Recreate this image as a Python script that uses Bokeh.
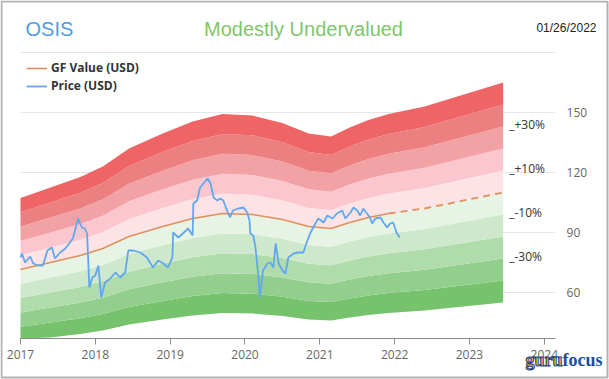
from bokeh.plotting import figure
from bokeh.models import ColumnDataSource, FixedTicker, Legend, LegendItem, Label, BoxAnnotation
from bokeh.embed import file_html
from bokeh.resources import INLINE
from bokeh.core.properties import value

# ---------------- data ----------------
ticker_name = "OSIS"
status_text = "Modestly Undervalued"
date_text = "01/26/2022"

x_ticks = [2017, 2018, 2019, 2020, 2021, 2022, 2023, 2024]
y_ticks = [60, 90, 120, 150]
grid_ticks = [60, 90, 120, 150, 180]

# GF Value (historical, solid)
gf_years = [2017.00, 2017.40, 2017.80, 2018.10, 2018.45, 2018.90, 2019.30, 2019.70,
            2020.10, 2020.50, 2020.85, 2021.15, 2021.40, 2021.65, 2021.92]
gf_values = [71.5, 75.0, 78.5, 82.0, 88.0, 93.0, 97.0, 99.5,
             99.0, 96.5, 93.0, 92.0, 95.0, 97.5, 99.5]

# GF Value projection (dashed)
proj_years = [2021.92, 2022.40, 2023.45]
proj_values = [99.5, 102.0, 110.0]

# Price (USD)
price_years = [2017.00, 2017.02, 2017.06, 2017.13, 2017.17, 2017.24, 2017.30, 2017.36,
               2017.42, 2017.46, 2017.53, 2017.60, 2017.66, 2017.70, 2017.77, 2017.82,
               2017.86, 2017.89, 2017.92, 2017.96, 2018.00, 2018.04, 2018.08, 2018.13,
               2018.20, 2018.27, 2018.33, 2018.40, 2018.44, 2018.51, 2018.60, 2018.69,
               2018.77, 2018.84, 2018.91, 2018.97, 2019.03, 2019.04, 2019.11, 2019.17,
               2019.24, 2019.30, 2019.31, 2019.36, 2019.40, 2019.50, 2019.54, 2019.58,
               2019.63, 2019.67, 2019.71, 2019.76, 2019.80, 2019.84, 2019.91, 2019.98,
               2020.03, 2020.06, 2020.07, 2020.11, 2020.14, 2020.18, 2020.20, 2020.24,
               2020.30, 2020.34, 2020.38, 2020.41, 2020.45, 2020.50, 2020.54, 2020.58,
               2020.65, 2020.71, 2020.78, 2020.82, 2020.87, 2020.94, 2020.98, 2021.05,
               2021.10, 2021.17, 2021.23, 2021.30, 2021.34, 2021.41, 2021.45, 2021.50,
               2021.54, 2021.58, 2021.63, 2021.67, 2021.70, 2021.74, 2021.81, 2021.85,
               2021.90, 2021.94, 2021.98, 2022.03, 2022.07]
price_values = [77.5, 79.5, 75.0, 78.0, 74.5, 73.5, 73.5, 81.0,
                82.5, 77.0, 80.0, 82.0, 85.0, 87.0, 97.0, 92.5,
                92.0, 89.5, 62.5, 67.5, 68.5, 73.5, 57.5, 65.0,
                67.0, 70.0, 67.5, 70.0, 81.0, 81.0, 80.0, 77.5,
                72.5, 76.0, 74.5, 72.5, 77.5, 90.0, 87.5, 89.5,
                92.0, 88.5, 104.5, 106.0, 112.5, 117.0, 114.5, 107.5,
                106.0, 107.0, 106.0, 101.0, 97.5, 101.0, 102.0, 102.5,
                100.0, 96.0, 89.5, 88.5, 82.5, 67.5, 57.5, 71.0,
                74.5, 75.0, 72.5, 84.5, 74.5, 71.0, 69.5, 77.5,
                79.5, 80.0, 80.0, 84.5, 89.5, 94.5, 97.0, 95.0,
                98.5, 97.0, 99.5, 101.0, 97.0, 100.0, 102.5, 101.0,
                98.5, 102.0, 99.5, 97.5, 94.5, 97.0, 97.5, 95.0,
                92.5, 94.5, 95.0, 89.5, 87.5]

# valuation bands: multiples of GF Value (bottom -> top)
band_levels = [0.5, 0.6, 0.7, 0.8, 0.9, 1.0, 1.1, 1.2, 1.3, 1.4, 1.5]
band_colors = ["#76c26d", "#93cf8c", "#b0dcab", "#cde8ca", "#e6f3e5",
               "#fde2e6", "#fbc6cd", "#f2a2a4", "#ec8080", "#ef6464"]
band_label_texts = ["+30%", "+10%", "-10%", "-30%"]
band_label_levels = [1.3, 1.1, 0.9, 0.7]

# axis extents (data units)
x_axis_start, x_axis_end = 2017.0, 2024.15
y_axis_min = 37

# ---------------- figure ----------------
W, H = 609, 379
px_per_year = 74.83
px_per_unit = 2.0
x_left_px, y_top_px = 20, 52          # screen position of (2017, 180)
x_range = (x_axis_start - x_left_px / px_per_year,
           x_axis_start + (W - x_left_px) / px_per_year)
y_range = (180 - (H - y_top_px) / px_per_unit, 180 + y_top_px / px_per_unit)

p = figure(width=W, height=H, x_range=x_range, y_range=y_range,
           y_axis_location="right", output_backend="svg", toolbar_location=None,
           min_border=0, min_border_left=0, min_border_right=0,
           min_border_top=0, min_border_bottom=0)
p.outline_line_color = None
p.background_fill_color = "white"
p.border_fill_color = "white"
p.xgrid.visible = False
p.ygrid.visible = False

# horizontal grid lines
p.segment(x0=[x_axis_start] * len(grid_ticks), x1=[x_axis_end] * len(grid_ticks),
          y0=grid_ticks, y1=grid_ticks, line_color="#e6e6e6", line_width=1)

# bands
band_x = gf_years + proj_years[1:]
band_gf = gf_values + proj_values[1:]
for i, color in enumerate(band_colors):
    lo, hi = band_levels[i], band_levels[i + 1]
    src = ColumnDataSource(dict(x=band_x,
                                y1=[max(g * lo, y_axis_min) for g in band_gf],
                                y2=[g * hi for g in band_gf]))
    p.varea(x="x", y1="y1", y2="y2", source=src, fill_color=color, fill_alpha=1.0)

# band labels at the right end
end_x = band_x[-1]
end_gf = band_gf[-1]
lab_src = ColumnDataSource(dict(x=[end_x] * len(band_label_texts),
                                y=[end_gf * l for l in band_label_levels],
                                t=["_" + t for t in band_label_texts]))
p.text(x="x", y="y", text="t", source=lab_src, x_offset=6, y_offset=-2,
       text_baseline="middle", text_align="left", text_font=value("Open Sans"),
       text_font_size="12px", text_color="#333333")

# GF value lines
gf_r = p.line(gf_years, gf_values, line_color="#e0905a", line_width=1.6)
p.line(proj_years, proj_values, line_color="#e0905a", line_width=1.8, line_dash="7 5")

# price
price_r = p.line(price_years, price_values, line_color="#5fa8ef", line_width=1.8)

# axes (fixed inside the full-canvas frame)
p.xaxis.fixed_location = y_axis_min
p.xaxis.bounds = (x_axis_start, x_axis_end)
p.xaxis.ticker = FixedTicker(ticks=x_ticks)
p.xaxis.major_label_overrides = {t: str(t) for t in x_ticks}
p.xaxis.axis_line_color = "#8a8a8a"
p.xaxis.major_tick_line_color = "#8a8a8a"
p.xaxis.major_tick_out = 6
p.xaxis.major_tick_in = 0
p.xaxis.minor_tick_line_color = None
p.xaxis.major_label_standoff = 5
p.xaxis.major_label_text_color = "#666666"
p.xaxis.major_label_text_font = "Open Sans"
p.xaxis.major_label_text_font_size = "12px"

p.yaxis.fixed_location = x_axis_end
p.yaxis.ticker = FixedTicker(ticks=y_ticks)
p.yaxis.axis_line_color = None
p.yaxis.major_tick_line_color = None
p.yaxis.minor_tick_line_color = None
p.yaxis.major_tick_out = 0
p.yaxis.major_tick_in = 0
p.yaxis.major_label_standoff = 11
p.yaxis.major_label_text_color = "#666666"
p.yaxis.major_label_text_font = "Open Sans"
p.yaxis.major_label_text_font_size = "12px"

# legend
legend = Legend(items=[LegendItem(label="GF Value (USD)", renderers=[gf_r]),
                       LegendItem(label="Price (USD)", renderers=[price_r])],
                location=(26, 285), orientation="vertical",
                border_line_color=None, background_fill_alpha=0,
                padding=0, margin=0, spacing=1,
                glyph_width=21, glyph_height=16, label_height=16, label_standoff=4,
                label_text_font="Open Sans", label_text_font_style="bold",
                label_text_font_size="12px", label_text_color="#333333")
p.add_layout(legend)

# header texts (screen units)
p.add_layout(Label(x=25, y=351, x_units="screen", y_units="screen", text=ticker_name,
                   text_font="Liberation Sans", text_font_size="20px", text_color="#4d9de0",
                   text_baseline="middle", text_align="left"))
p.add_layout(Label(x=303, y=351, x_units="screen", y_units="screen", text=status_text,
                   text_font="Liberation Sans", text_font_size="20px", text_color="#80c56c",
                   text_baseline="middle", text_align="center"))
p.add_layout(Label(x=596, y=352, x_units="screen", y_units="screen", text=date_text,
                   text_font="Liberation Sans", text_font_size="12px", text_color="#222222",
                   text_baseline="middle", text_align="right"))

# logo
p.add_layout(Label(x=562, y=20, x_units="screen", y_units="screen", text="guru",
                   text_font="Liberation Sans Narrow", text_font_style="bold",
                   text_font_size="18px", text_color="#f2b705", text_outline_color="#1d3f8a",
                   text_baseline="middle", text_align="right"))
p.add_layout(Label(x=562, y=20, x_units="screen", y_units="screen", text="focus",
                   text_font="Liberation Sans Narrow", text_font_style="bold",
                   text_font_size="18px", text_color="#1d4fa0",
                   text_baseline="middle", text_align="left"))

# image frame
p.add_layout(BoxAnnotation(left=1, right=607, bottom=2, top=378,
                           left_units="screen", right_units="screen",
                           bottom_units="screen", top_units="screen",
                           fill_color=None, fill_alpha=0,
                           line_color="black", line_width=2))

open("out.html", "w").write(file_html(p, INLINE))
